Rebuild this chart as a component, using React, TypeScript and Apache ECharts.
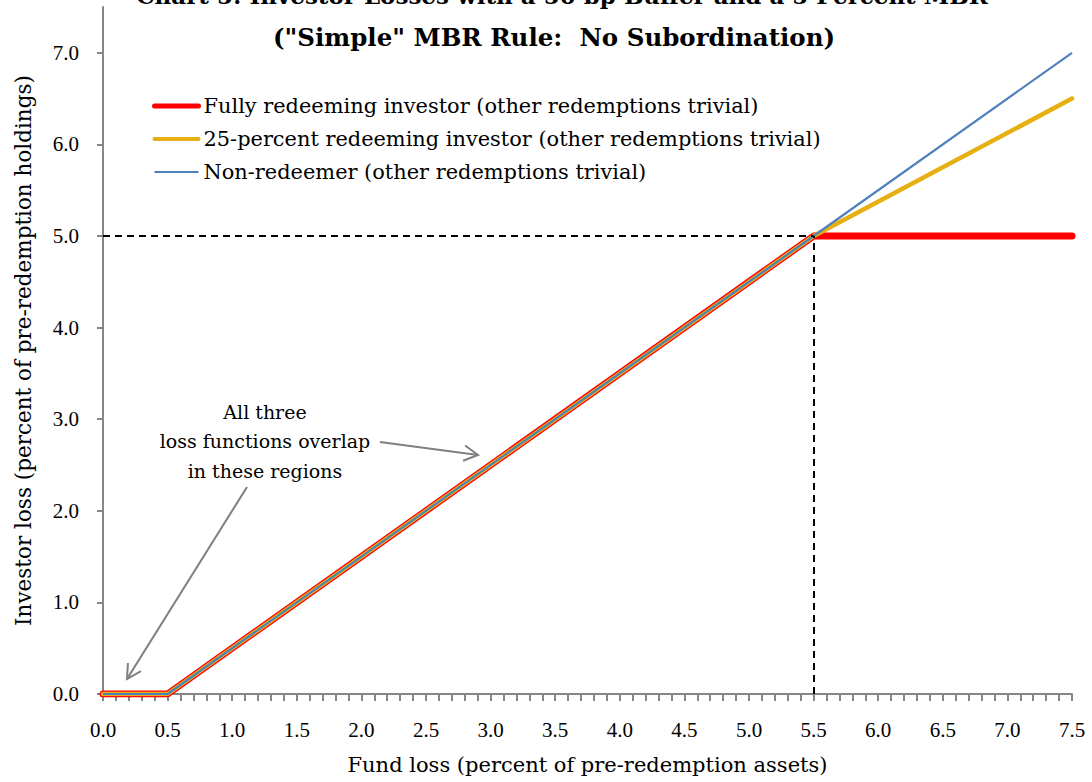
import React, { useEffect, useRef } from "react";
import * as echarts from "echarts";

// ---- Data ----
const fundLoss = [0, 0.5, 5.5, 7.5];
const fullyRedeeming = [0, 0, 5.0, 5.0];
const quarterRedeeming = [0, 0, 5.0, 6.5];
const nonRedeemer = [0, 0, 5.0, 7.0];
const seriesNames = [
  "Fully redeeming investor (other redemptions trivial)",
  "25-percent redeeming investor (other redemptions trivial)",
  "Non-redeemer (other redemptions trivial)",
];
const refX = 5.5;
const refY = 5.0;
const titleLine1 = "Chart 5: Investor Losses with a 50 bp Buffer and a 5 Percent MBR";
const titleLine2 = '("Simple" MBR Rule:  No Subordination)';
const xName = "Fund loss (percent of pre-redemption assets)";
const yName = "Investor loss (percent of pre-redemption holdings)";
const annotation = "All three\nloss functions overlap\nin these regions";

const FONT = "'DejaVu Serif', 'Liberation Serif', serif";
const TICKFONT = "'Liberation Serif', 'DejaVu Serif', serif";
const GRAY = "#868686";
const RED = "#FF0000";
const GOLD = "#E6B012";
const BLUE = "#4F81BD";

function pairs(ys: number[]) {
  return fundLoss.map((x, i) => [x, ys[i]]);
}

function arrow(x1: number, y1: number, x2: number, y2: number, len = 16, ang = 0.5) {
  const a = Math.atan2(y2 - y1, x2 - x1);
  const b1 = [x2 - len * Math.cos(a - ang), y2 - len * Math.sin(a - ang)];
  const b2 = [x2 - len * Math.cos(a + ang), y2 - len * Math.sin(a + ang)];
  const style = { stroke: "#808080", lineWidth: 2, fill: null as any };
  return [
    { type: "line", shape: { x1, y1, x2, y2 }, style },
    { type: "polyline", shape: { points: [b1, [x2, y2], b2] }, style },
  ];
}

export default function App() {
  const ref = useRef<HTMLDivElement>(null);
  useEffect(() => {
    const chart = echarts.init(ref.current!, null, { renderer: "svg" });
    chart.setOption({
      animation: false,
      backgroundColor: "#fff",
      textStyle: { fontFamily: FONT },
      grid: { left: 103, right: 20, top: 7, bottom: 88 },
      legend: {
        orient: "vertical",
        left: 152,
        top: 95,
        padding: 0,
        itemWidth: 44,
        itemHeight: 14,
        itemGap: 11,
        itemStyle: { opacity: 0 },
        textStyle: { fontFamily: FONT, fontSize: 20.9, color: "#000", lineHeight: 22 },
        data: [
          { name: seriesNames[0], lineStyle: { color: RED, width: 5 } },
          { name: seriesNames[1], lineStyle: { color: GOLD, width: 4 } },
          { name: seriesNames[2], lineStyle: { color: BLUE, width: 2 } },
        ],
        selectedMode: false,
      },
      xAxis: {
        type: "value",
        min: 0,
        max: 7.5,
        interval: 0.5,
        name: xName,
        nameLocation: "middle",
        nameGap: 60,
        nameMoveOverlap: false,
        nameTextStyle: { fontFamily: FONT, fontSize: 21, color: "#000" },
        axisLine: { show: true, onZero: false, lineStyle: { color: GRAY, width: 2 } },
        axisTick: { show: true, length: 7, lineStyle: { color: GRAY, width: 2 } },
        minorTick: { show: true, splitNumber: 5, length: 7, lineStyle: { color: GRAY, width: 2 } },
        axisLabel: {
          fontFamily: TICKFONT,
          fontSize: 21,
          color: "#000",
          margin: 25,
          formatter: (v: number) => v.toFixed(1),
        },
        splitLine: { show: false },
      },
      yAxis: {
        type: "value",
        min: 0,
        max: 7.5,
        interval: 1,
        name: yName,
        nameLocation: "middle",
        nameGap: 69,
        nameMoveOverlap: false,
        nameRotate: 90,
        nameTextStyle: { fontFamily: FONT, fontSize: 21.5, color: "#000" },
        axisLine: { show: true, lineStyle: { color: GRAY, width: 2 } },
        axisTick: { show: true, length: 6, lineStyle: { color: GRAY, width: 2 } },
        axisLabel: {
          fontFamily: TICKFONT,
          fontSize: 21,
          color: "#000",
          margin: 24,
          showMaxLabel: false,
          formatter: (v: number) => (v > 7 ? "" : v.toFixed(1)),
        },
        splitLine: { show: false },
      },
      series: [
        {
          name: seriesNames[0],
          type: "line",
          data: pairs(fullyRedeeming),
          symbol: "none",
          color: RED,
          lineStyle: { color: RED, width: 7, cap: "round", join: "round" },
          z: 2,
        },
        {
          name: seriesNames[1],
          type: "line",
          data: pairs(quarterRedeeming),
          symbol: "none",
          color: GOLD,
          lineStyle: { color: GOLD, width: 4.5, cap: "round", join: "round" },
          z: 3,
        },
        {
          name: seriesNames[2],
          type: "line",
          data: pairs(nonRedeemer),
          symbol: "none",
          color: BLUE,
          lineStyle: { color: BLUE, width: 2.2, join: "round" },
          z: 4,
        },
        {
          name: "ref",
          type: "line",
          data: [],
          z: 5,
          markLine: {
            silent: true,
            symbol: ["none", "none"],
            label: { show: false },
            lineStyle: { color: "#000", width: 2, type: [7, 5] },
            data: [
              [{ coord: [0, refY] }, { coord: [refX, refY] }],
              [{ coord: [refX, 0] }, { coord: [refX, refY] }],
            ],
          },
        },
      ],
      graphic: [
        {
          type: "text",
          x: 562,
          y: -5,
          style: {
            text: titleLine1,
            font: `bold 23px ${FONT}`,
            fill: "#000",
            align: "center",
            verticalAlign: "middle",
          },
        },
        {
          type: "text",
          x: 554,
          y: 37,
          style: {
            text: titleLine2,
            font: `bold 24.5px ${FONT}`,
            fill: "#000",
            align: "center",
            verticalAlign: "middle",
          },
        },
        {
          type: "text",
          x: 265,
          y: 441,
          style: {
            text: annotation,
            font: `19px ${FONT}`,
            fill: "#000",
            align: "center",
            verticalAlign: "middle",
            lineHeight: 29.5,
          },
        },
        ...arrow(380, 442, 478, 455),
        ...arrow(247, 487, 127, 679),
      ],
    });
    return () => chart.dispose();
  }, []);
  return (
    <div
      ref={ref}
      style={{ position: "fixed", left: 0, top: 0, width: 1092, height: 782 }}
    />
  );
}
